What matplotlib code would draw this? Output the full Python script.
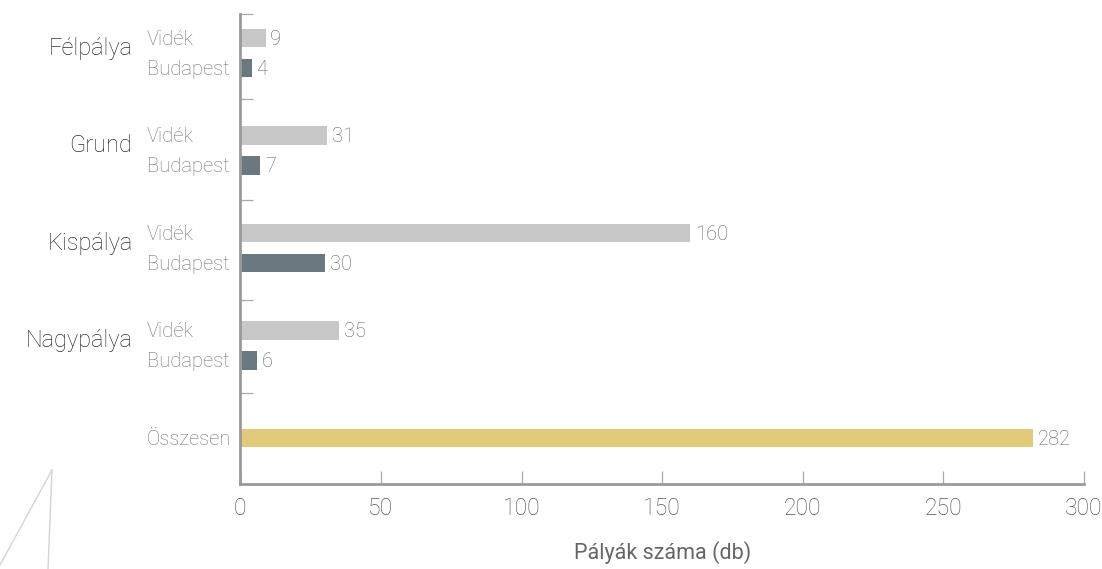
import matplotlib
matplotlib.use("Agg")
import matplotlib.pyplot as plt
from matplotlib.lines import Line2D

plt.rcParams['font.family'] = ['Roboto', 'DejaVu Sans']
plt.rcParams['font.weight'] = 'light'

# ---- data ----
groups = ["Félpálya", "Grund", "Kispálya", "Nagypálya"]
series_names = ["Vidék", "Budapest"]
videk = [9, 31, 160, 35]
budapest = [4, 7, 30, 6]
total_label = "Összesen"
total_value = 282
x_ticks = [0, 50, 100, 150, 200, 250, 300]
x_label = "Pályák száma (db)"

# ---- style ----
c_videk = "#c6c7c6"
c_bud = "#6a7880"
c_total = "#e1ca7a"
c_axis = "#9a9a9a"
fs = 14.5

W, H = 1102, 569
fig = plt.figure(figsize=(W / 100, H / 100), dpi=100)
ax_left, ax_right = 240.3 / W, 1084 / W
ax_top, ax_bottom = 14.3 / H, 484.3 / H
ax = fig.add_axes([ax_left, 1 - ax_bottom, ax_right - ax_left, ax_bottom - ax_top])

group_step = 3.25
bar_h = 0.62
y_v = [g * group_step for g in range(len(groups))]
y_b = [g * group_step + 1 for g in range(len(groups))]
y_total = 13.34

ax.barh(y_v, videk, height=bar_h, color=c_videk, zorder=2)
ax.barh(y_b, budapest, height=bar_h, color=c_bud, zorder=2)
ax.barh([y_total], [total_value], height=bar_h, color=c_total, zorder=2)

ax.set_xlim(0, 300)
ax.set_ylim(14.88, -0.79)

# value labels
for yy, v in list(zip(y_v, videk)) + list(zip(y_b, budapest)) + [(y_total, total_value)]:
    ax.annotate(str(v), xy=(v, yy), xytext=(3.5, -0.8), textcoords="offset points",
                ha="left", va="center", fontsize=fs, color="#666666")

# sub-category labels (left aligned in a column)
sub_off = -67.2
for yy in y_v:
    ax.annotate(series_names[0], xy=(0, yy), xycoords=("axes fraction", "data"),
                xytext=(sub_off, -1), textcoords="offset points", ha="left", va="center",
                fontsize=fs, color="#747474")
for yy in y_b:
    ax.annotate(series_names[1], xy=(0, yy), xycoords=("axes fraction", "data"),
                xytext=(sub_off, -1), textcoords="offset points", ha="left", va="center",
                fontsize=fs, color="#747474")
ax.annotate(total_label, xy=(0, y_total), xycoords=("axes fraction", "data"),
            xytext=(sub_off, -1), textcoords="offset points", ha="left", va="center",
            fontsize=fs, color="#747474")

# group labels
for g, name in enumerate(groups):
    yc = (y_v[g] + y_b[g]) / 2
    ax.annotate(name, xy=(0, yc), xycoords=("axes fraction", "data"),
                xytext=(-77.6, 3.5), textcoords="offset points", ha="right", va="center",
                fontsize=17, color="#2e2e2e")

# axes styling
for s in ["top", "right"]:
    ax.spines[s].set_visible(False)
for s in ["left", "bottom"]:
    ax.spines[s].set_color(c_axis)
    ax.spines[s].set_linewidth(2.0)

ax.set_xticks(x_ticks)
ax.set_xticklabels([str(t) for t in x_ticks])
ax.tick_params(axis="x", direction="in", length=9.5, width=0.9, color="#a8a8a8",
               labelsize=16.5, labelcolor="#555555", pad=9)
sep = [-0.79, 2.04, 5.4, 8.73, 11.82]
ax.set_yticks(sep)
ax.set_yticklabels([""] * len(sep))
ax.tick_params(axis="y", direction="in", length=9.5, width=0.9, color="#a8a8a8")

ax.set_xlabel(x_label, fontsize=15.5, color="#666666", labelpad=15)

# decorative lines bottom-left
fig.add_artist(Line2D([52 / W, 0 / W], [1 - 470 / H, 1 - 565 / H], color="#d4d4d4", lw=1))
fig.add_artist(Line2D([52 / W, 48 / W], [1 - 470 / H, 1 - 569 / H], color="#d4d4d4", lw=1))

fig.savefig("out.png", dpi=100)
